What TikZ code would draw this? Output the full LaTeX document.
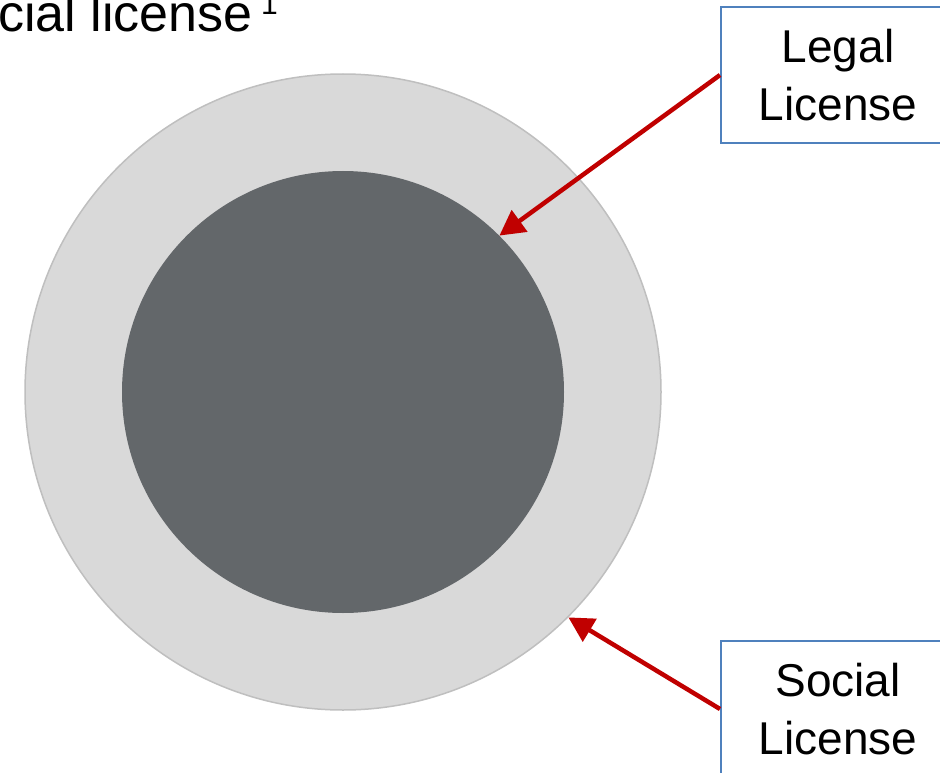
\documentclass[tikz,border=0pt]{standalone}
\usepackage{fontspec}
\setmainfont{Liberation Sans}
\usetikzlibrary{arrows.meta}
\definecolor{ringgray}{HTML}{D9D9D9}
\definecolor{ringedge}{HTML}{BFBFBF}
\definecolor{coregray}{HTML}{63676A}
\definecolor{arrowred}{HTML}{C00000}
\definecolor{boxblue}{HTML}{4F81BD}
\begin{document}
\begin{tikzpicture}[x=1pt,y=-1pt,
  labelbox/.style={draw=boxblue, line width=2pt, fill=white,
    minimum width=234pt, minimum height=136pt, align=center,
    font=\fontsize{46}{58}\selectfont, inner sep=0pt},
  pointer/.style={draw=arrowred, line width=4.5pt,
    -{Triangle[length=25pt,width=26pt]}}]
\useasboundingbox (0,0) rectangle (940,773);
\clip (0,0) rectangle (940,773);
% concentric licence rings
\node[circle, fill=ringgray, draw=ringedge, line width=1.5pt,
  minimum size=636pt, inner sep=0pt] (outer) at (343,392) {};
\node[circle, fill=coregray, minimum size=442pt, inner sep=0pt] (inner) at (343,392) {};
% labels
\node[labelbox] (legal) at (838,75) {Legal\\License};
\node[labelbox] (social) at (838,709) {Social\\License};
% pointers
\draw[pointer] (legal.west) -- (inner.45);
\draw[pointer] (social.west) -- (outer.-45);
% heading
\node[anchor=base east, inner sep=0pt, font=\fontsize{52}{62}\selectfont] (title) at (253,32) {Social license};
\node[anchor=base west, inner sep=0pt, font=\fontsize{30}{30}\selectfont] (note) at (261,15) {1};
\end{tikzpicture}
\end{document}
